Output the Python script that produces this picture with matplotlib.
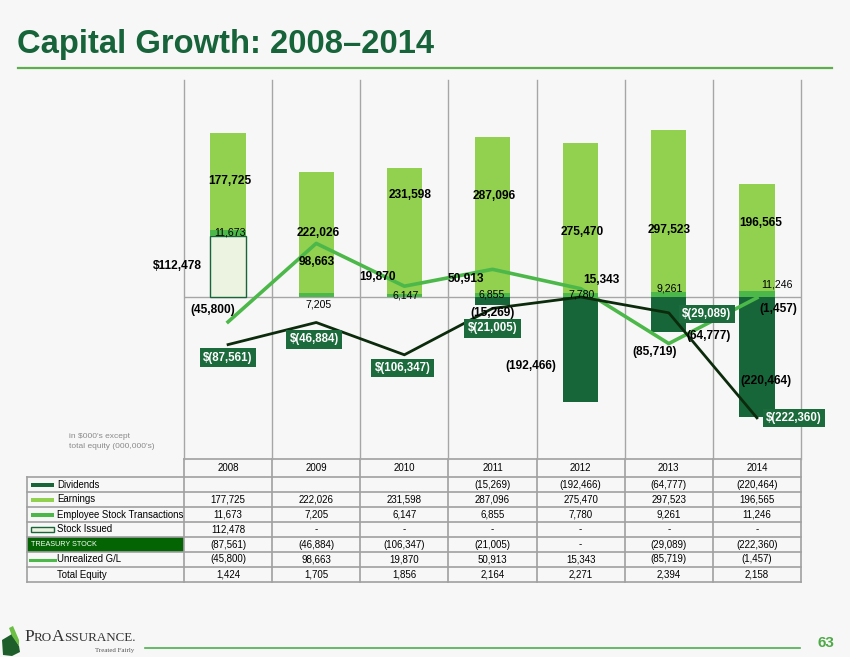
import numpy as np
import matplotlib
matplotlib.use('Agg')
import matplotlib.pyplot as plt
from matplotlib.patches import Rectangle, Polygon

plt.rcParams['font.family'] = ['Liberation Sans', 'DejaVu Sans']

# Datos (en $000's, total equity en 000,000's)
years = ['2008', '2009', '2010', '2011', '2012', '2013', '2014']
dividends = [np.nan, np.nan, np.nan, -15269, -192466, -64777, -220464]
earnings = [177725, 222026, 231598, 287096, 275470, 297523, 196565]
esop = [11673, 7205, 6147, 6855, 7780, 9261, 11246]
stock_issued = [112478, 0, 0, 0, 0, 0, 0]
treasury = [-87561, -46884, -106347, -21005, 0, -29089, -222360]
unrealized = [-45800, 98663, 19870, 50913, 15343, -85719, -1457]
total_equity = [1424, 1705, 1856, 2164, 2271, 2394, 2158]

# colores
bg = '#F7F7F7'
c_div = '#17663A'
c_earn = '#92D050'
c_esop = '#4CB84A'
c_issued = '#EDF3E1'
c_treas = '#0C2B0C'
c_box = '#1C6B3C'
c_cell = '#046404'
c_grid = '#A6A6A6'
c_title = '#17643A'

W, H = 850, 657
fig = plt.figure(figsize=(W / 100, H / 100), dpi=100, facecolor=bg)

# capa de fondo en pixeles para titulo, tabla, pie
base = fig.add_axes([0, 0, 1, 1])
base.set_xlim(0, W)
base.set_ylim(H, 0)
base.axis('off')


def fmt(v):
    if v != v:
        return ''
    if v == 0:
        return '-'
    if v < 0:
        return '({:,.0f})'.format(-v)
    return '{:,.0f}'.format(v)


# titulo
base.text(17, 53, 'Capital Growth: 2008\u20132014', fontsize=23.6, fontweight='bold',
          color=c_title, va='baseline', ha='left')
base.plot([18, 832], [68, 68], color='#5DAF4C', lw=1.6)

# grafico
x0, x1, ytop, ybot, yzero = 184, 801, 80, 459, 297
upp = 1840.0  # unidades por pixel
ax = fig.add_axes([x0 / W, 1 - ybot / H, (x1 - x0) / W, (ybot - ytop) / H])
ax.set_facecolor('none')
ax.set_xlim(-0.5, 6.5)
ax.set_ylim(-(ybot - yzero) * upp, (yzero - ytop) * upp)
ax.axis('off')

x = np.arange(len(years))
for k in range(len(years) + 1):
    ax.axvline(k - 0.5, color=c_grid, lw=1, zorder=0, clip_on=False)
ax.axhline(0, color=c_grid, lw=1, zorder=0)

bw = 0.4
si = np.array(stock_issued, dtype=float)
es = np.array(esop, dtype=float)
ea = np.array(earnings, dtype=float)
dv = np.array(dividends, dtype=float)
m = si > 0
ax.bar(x[m], si[m], width=bw, color=c_issued, edgecolor=c_div, lw=1, zorder=2)
ax.bar(x, es, width=bw, bottom=si, color=c_esop, zorder=2)
ax.bar(x, ea, width=bw, bottom=si + es, color=c_earn, zorder=2)
md = ~np.isnan(dv)
ax.bar(x[md], dv[md], width=bw, color=c_div, zorder=2)

ax.plot(x, unrealized, color=c_esop, lw=2.6, zorder=4)
ax.plot(x, treasury, color=c_treas, lw=2, zorder=4)

# etiquetas (desplazamientos en pixeles)
lab_fs = 8.6
earn_off = [(2, 0), (2, 0), (6, 36), (2, 19), (2, -14), (0, -19), (4, 14)]
for i in range(len(years)):
    ax.annotate(fmt(ea[i]), (x[i], si[i] + es[i] + ea[i] / 2), xytext=earn_off[i],
                textcoords='offset pixels', ha='center', va='center',
                fontsize=lab_fs, fontweight='bold', zorder=6)

esop_off = [(2, 0), (2, -9), (1, 0), (-1, 1), (1, 0), (1, 6), (20, 9)]
for i in range(len(years)):
    ax.annotate(fmt(es[i]), (x[i], si[i] + es[i] / 2), xytext=esop_off[i],
                textcoords='offset pixels', ha='center', va='center',
                fontsize=7.6, zorder=6)

ax.annotate('$' + fmt(si[0]), (x[0], si[0] / 2), xytext=(-26, 0),
            textcoords='offset pixels', ha='right', va='center',
            fontsize=lab_fs, fontweight='bold', zorder=6)

div_off = {3: (0, -12), 4: (-50, -17), 5: (40, -21), 6: (9, -24)}
for i, off in div_off.items():
    ax.annotate(fmt(dv[i]), (x[i], dv[i] / 2), xytext=off,
                textcoords='offset pixels', ha='center', va='center',
                fontsize=lab_fs, fontweight='bold', zorder=6)

unr_off = [(-15, 12), (0, -19), (-27, 9), (-27, -10), (21, 9), (-14, -8), (21, -11)]
for i in range(len(years)):
    ax.annotate(fmt(unrealized[i]), (x[i], unrealized[i]), xytext=unr_off[i],
                textcoords='offset pixels', ha='center', va='center',
                fontsize=lab_fs, fontweight='bold', zorder=6)

treas_off = {0: (0, -13), 1: (-2, -17), 2: (-2, -13), 3: (0, -20), 5: (38, -1), 6: (37, 0)}
for i, off in treas_off.items():
    ax.annotate('$' + fmt(treasury[i]), (x[i], treasury[i]), xytext=off,
                textcoords='offset pixels', ha='center', va='center',
                fontsize=8.3, fontweight='bold', color='white', zorder=7,
                bbox=dict(boxstyle='square,pad=0.28', fc=c_box, ec='none'))

# nota
base.text(69, 437, "in $000's except", fontsize=6, color='#8A8A8A', va='center')
base.text(69, 447, "total equity (000,000's)", fontsize=6, color='#8A8A8A', va='center')

# tabla
col_w = (x1 - x0) / len(years)
lc = '#A0A0A0'
hdr_top, row_top, row_h = 459, 477, 15
rows = ['Dividends', 'Earnings', 'Employee Stock Transactions', 'Stock Issued',
        'TREASURY STOCK', 'Unrealized G/L', 'Total Equity']
values = [dividends, earnings, esop, stock_issued, treasury, unrealized, total_equity]
row_bot = row_top + row_h * len(rows)

# celda treasury
tr_y = row_top + row_h * 4
base.add_patch(Rectangle((27, tr_y), x0 - 27, row_h, fc=c_cell, ec='none', zorder=1))

# lineas
base.plot([x0, x1], [hdr_top, hdr_top], color=lc, lw=1.2, zorder=2)
for r in range(len(rows) + 1):
    y = row_top + r * row_h
    base.plot([27, x1], [y, y], color=lc, lw=1.2, zorder=2)
base.plot([27, 27], [row_top, row_bot], color=lc, lw=1.2, zorder=2)
for k in range(len(years) + 1):
    xx = x0 + k * col_w
    base.plot([xx, xx], [hdr_top, row_bot], color=lc, lw=1.2, zorder=2)

for j, yr in enumerate(years):
    base.text(x0 + (j + 0.5) * col_w, (hdr_top + row_top) / 2, yr, fontsize=7,
              ha='center', va='center')

for r, name in enumerate(rows):
    yc = row_top + (r + 0.5) * row_h
    if name == 'TREASURY STOCK':
        base.text(31, yc + 0.5, name, fontsize=5.2, color='white', va='center')
    else:
        base.text(57, yc, name, fontsize=6.9, va='center')
    for j in range(len(years)):
        base.text(x0 + (j + 0.5) * col_w, yc, fmt(values[r][j]), fontsize=7,
                  ha='center', va='center')


# muestras de leyenda
def swatch_y(r):
    return row_top + (r + 0.5) * row_h


base.add_patch(Rectangle((31, swatch_y(0) - 2), 23, 4, fc=c_div, ec='none', zorder=3))
base.add_patch(Rectangle((31, swatch_y(1) - 2), 23, 4, fc=c_earn, ec='none', zorder=3))
base.add_patch(Rectangle((31, swatch_y(2) - 2), 23, 4, fc=c_esop, ec='none', zorder=3))
base.add_patch(Rectangle((31, swatch_y(3) - 2.5), 23, 5, fc=c_issued, ec=c_div, lw=1, zorder=3))
base.plot([30, 55], [swatch_y(5), swatch_y(5)], color=c_esop, lw=2.2, zorder=3)

# pie de pagina
base.plot([145, 800], [648, 648], color='#4CAF50', lw=1.2)
base.text(826, 643, '63', fontsize=11, fontweight='bold', color='#4DAA46',
          ha='center', va='center')
base.add_patch(Polygon([(2, 640), (12, 634), (19, 646), (20, 652), (12, 656), (3, 655)],
                       closed=True, fc='#1E5E2A', ec='none'))
base.add_patch(Polygon([(9, 628), (13, 626), (19, 640), (19, 646), (12, 636)],
                       closed=True, fc='#6DBE45', ec='none'))

# logotipo en versalitas
renderer = fig.canvas.get_renderer()
xpos = 24
for part, fs in [('P', 12.5), ('RO', 9.4), ('A', 12.5), ('SSURANCE.', 9.4)]:
    t = base.text(xpos, 641, part, fontsize=fs, family='Liberation Serif',
                  color='#333333', va='baseline')
    bb = t.get_window_extent(renderer=renderer)
    xpos += bb.width
base.text(95, 652, 'Treated Fairly', fontsize=5, family='Liberation Serif', color='#555555',
          va='baseline')

fig.savefig('out.png', dpi=100, facecolor=bg)
